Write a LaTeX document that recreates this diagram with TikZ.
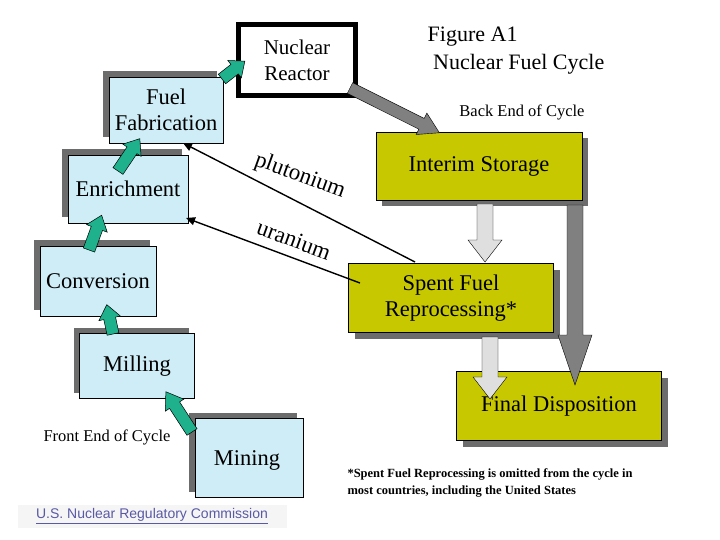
\documentclass[tikz,border=0pt]{standalone}
\usepackage{fontspec}
\setmainfont{Liberation Serif}
\newfontfamily\arialf{Liberation Sans}
\usetikzlibrary{shadows,arrows.meta}
\definecolor{lblue}{HTML}{CFEDF7}
\definecolor{olive}{HTML}{C8C800}
\definecolor{teal}{HTML}{1FB08C}
\newcommand\blockarr[8]{% x y angle len halfbody halfhead headlen style
  \begin{scope}[shift={(#1,#2)},rotate=#3]
  \filldraw[#8] (0,-#5) -- ({#4-#7},-#5) -- ({#4-#7},-#6) -- (#4,0) -- ({#4-#7},#6) -- ({#4-#7},#5) -- (0,#5) -- cycle;
  \end{scope}}
\begin{document}
\begin{tikzpicture}[x=1pt,y=-1pt,
  bluebox/.style={draw=black,fill=lblue,rectangle,inner sep=0,align=center,font=\fontsize{22.5}{26}\selectfont,
    general shadow={fill=gray!85!black,shadow xshift=-6pt,shadow yshift=6pt}},
  ybox/.style={draw=black,fill=olive,rectangle,inner sep=0,align=center,font=\fontsize{22.5}{26}\selectfont,
    general shadow={fill=gray!85!black,shadow xshift=6pt,shadow yshift=-6pt}},
  garr/.style={draw=black,fill=teal,line width=0.5pt},
  pipe/.style={-{Triangle[length=9pt,width=8pt]},line width=1.4pt}]
\useasboundingbox (0,0) rectangle (720,540);
\fill[white] (0,0) rectangle (720,540);

\node[bluebox,minimum width=114,minimum height=66] (fab) at (166,110) {Fuel\\Fabrication};
\node[bluebox,minimum width=120,minimum height=68] (enr) at (128,189) {Enrichment};
\node[bluebox,minimum width=116,minimum height=70] (conv) at (98,281) {Conversion};
\node[bluebox,minimum width=115,minimum height=65] (mill) at (137,366) {Milling};
\node[bluebox,minimum width=108,minimum height=79] (mine) at (249,458) {};
\node[font=\fontsize{22.5}{26}\selectfont] (minet) at (247,460) {Mining};
\node[draw=black,line width=5pt,fill=white,minimum width=117,minimum height=71,align=center,
  font=\fontsize{21}{26}\selectfont] (reac) at (297,60) {Nuclear\\Reactor};
\node[ybox,minimum width=206,minimum height=68] (int) at (479,166) {Interim Storage};
\node[ybox,minimum width=205,minimum height=69] (spent) at (451,298) {Spent Fuel\\Reprocessing*};
\node[ybox,minimum width=205,minimum height=69] (fin) at (559,406) {Final Disposition};

% green arrows
\blockarr{192}{432}{123}{48}{6}{11}{16}{garr}
\blockarr{113}{334}{102}{30}{6}{11}{14}{garr}
\blockarr{89}{250}{70}{37}{6}{11}{14}{garr}
\blockarr{118}{171}{56}{39}{6}{11}{14}{garr}
\blockarr{222}{79}{38}{29}{6}{11}{13}{garr}
% back end arrows
\blockarr{350}{88}{-26.6}{100}{6}{12}{20}{draw=black,fill=gray}
\blockarr{485}{204}{-90}{58}{8}{17}{22}{draw=black,fill=gray!25}
\blockarr{490}{337}{-90}{62}{8}{17}{22}{draw=black,fill=gray!25}
\blockarr{575}{205}{-90}{180}{8}{17}{50}{draw=black,fill=gray}

% plutonium / uranium
\coordinate (pu0) at (415,262);
\coordinate (pu1) at (183,143);
\coordinate (u0) at (360,283);
\coordinate (u1) at (186,218);
\draw[pipe] (pu0) -- (pu1);
\draw[pipe] (u0) -- (u1);
\node[rotate=-20,font=\fontsize{23}{26}\selectfont] (pl) at (300,176) {plutonium};
\node[rotate=-20,font=\fontsize{23}{26}\selectfont] (ur) at (294,240) {uranium};

\node[align=left,font=\fontsize{22}{28}\selectfont] (fig) at (516,51) {Figure A1\\\ Nuclear Fuel Cycle};
\node[font=\fontsize{16.5}{19}\selectfont] (be) at (522,112) {Back End of Cycle};
\node[font=\fontsize{16.5}{19}\selectfont] (fe) at (107,437) {Front End of Cycle};
\node[align=left,anchor=west,font=\bfseries\fontsize{12.5}{17}\selectfont] (fn) at (344,483)
  {*Spent Fuel Reprocessing is omitted from the cycle in\\most countries, including the United States};
\node[fill=gray!8,minimum width=269,minimum height=23,text=gray!70!blue,font=\arialf\fontsize{14}{16}\selectfont] (nrc) at (152,516)
  {\underline{U.S. Nuclear Regulatory Commission}};
\end{tikzpicture}
\end{document}
